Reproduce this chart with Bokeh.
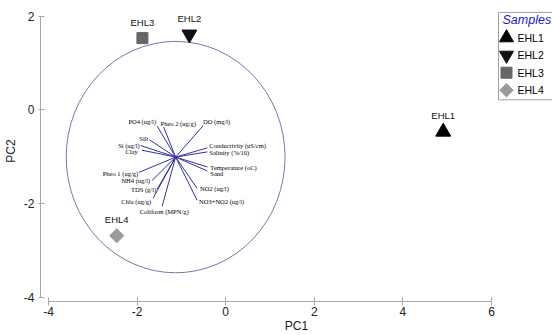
import numpy as np
from bokeh.plotting import figure
from bokeh.models import (ColumnDataSource, FixedTicker, Range1d,
                          PrintfTickFormatter)
from bokeh.core.properties import value
from bokeh.embed import file_html
from bokeh.resources import INLINE

# ---- data -------------------------------------------------------------
samples = ["EHL1", "EHL2", "EHL3", "EHL4"]
pc1 = [4.91, -0.82, -1.88, -2.46]
pc2 = [-0.47, 1.61, 1.53, -2.69]

variables = ["PO4 (ug/l)", "Pheo 2 (ug/g)", "DO (mg/l)", "Silt", "Si (ug/l)",
             "Clay", "Conductivity (uS/cm)", "Salinity (%/10)",
             "Temperature (oC)", "Sand", "Pheo 1 (ug/g)", "NH4 (ug/l)",
             "TDS (g/l)", "Chla (ug/g)", "Coliform (MPN/g)", "NO2 (ug/l)",
             "NO3+NO2 (ug/l)"]
load1 = [-0.17, -0.11, 0.25, -0.24, -0.32, -0.31, 0.29, 0.29, 0.29, 0.29,
         -0.334, -0.215, -0.169, -0.206, -0.123, 0.196, 0.196]
load2 = [0.27, 0.26, 0.27, 0.15, 0.10, 0.06, 0.08, 0.045, -0.085, -0.12,
         -0.132, -0.201, -0.278, -0.355, -0.424, -0.27, -0.373]

circle_center = (-1.13, -1.01)
circle_radius = 2.47

x_ticks = [-4, -2, 0, 2, 4, 6]
y_ticks = [-4, -2, 0, 2]

# ---- layout / style ---------------------------------------------------
W, H = 552, 335
BL, BB = 40, 32                       # left / bottom borders (px)
X0, X1 = -4.1806, 7.3769              # x range
Y0, Y1 = -4.093, 2.333                # y range
FW, FH = W - BL, H - BB               # frame size (px)

lab_align = ["right", "left", "left", "right", "right", "right", "left", "left",
             "left", "left", "right", "right", "right", "right", "center",
             "left", "left"]
lab_dx = [-1, -3, 0, -1, -1, -4, 2, 2, 3, 3, -1, -2, -1, -2, 2, 3, 2]
lab_dy = [-4, -4, -4, -1, 0, 1, -2, 1, 1, 3, 1, 0, 0, 3, 5, 0, 1]


def px2x(px):
    return X0 + (px - BL) * (X1 - X0) / FW


def py2y(py):
    return Y1 - py * (Y1 - Y0) / FH


p = figure(width=W, height=H, output_backend="svg", toolbar_location=None,
           x_range=Range1d(X0, X1), y_range=Range1d(Y0, Y1),
           min_border_left=BL, min_border_right=0, min_border_top=0,
           min_border_bottom=BB)
p.outline_line_color = None
p.grid.visible = False
p.background_fill_color = "white"

axis_col = "#a6a6a6"
for ax, ticks in ((p.xaxis[0], x_ticks), (p.yaxis[0], y_ticks)):
    ax.ticker = FixedTicker(ticks=ticks)
    ax.formatter = PrintfTickFormatter(format="%d")
    ax.minor_tick_line_color = None
    ax.axis_line_color = axis_col
    ax.major_tick_line_color = axis_col
    ax.major_label_text_font = "Liberation Sans"
    ax.major_label_text_font_size = "12px"
    ax.major_label_text_color = "#222222"
    ax.axis_label_text_font = "Liberation Sans"
    ax.axis_label_text_font_size = "12px"
    ax.axis_label_text_font_style = "normal"
    ax.axis_label_text_color = "#222222"
    ax.bounds = (min(ticks), max(ticks))

p.xaxis.axis_label = "PC1"
p.yaxis.axis_label = "PC2"
p.xaxis.major_tick_in = 4
p.xaxis.major_tick_out = 4
p.xaxis.major_label_standoff = 1
p.xaxis.axis_label_standoff = 0
p.yaxis.major_tick_in = 4
p.yaxis.major_tick_out = 2
p.yaxis.major_label_standoff = 4
p.yaxis.axis_label_standoff = 3

# correlation circle
cx, cy = circle_center
p.ellipse(x=[cx], y=[cy], width=2 * circle_radius, height=2 * circle_radius,
          fill_color=None, line_color="#7777aa", line_width=1)

# vectors
vx = [cx + a * circle_radius for a in load1]
vy = [cy + b * circle_radius for b in load2]
vsrc = ColumnDataSource(dict(x0=[cx] * len(vx), y0=[cy] * len(vy), x1=vx, y1=vy,
                             text=variables, align=lab_align, dx=lab_dx,
                             dy=lab_dy))
p.segment(x0="x0", y0="y0", x1="x1", y1="y1", source=vsrc,
          line_color="#34349a", line_width=1)
p.text(x="x1", y="y1", text="text", source=vsrc, text_align="align",
       x_offset="dx", y_offset="dy", text_baseline="middle",
       text_font=value("Liberation Serif"), text_font_size="6.5px",
       text_color="#000000")

# samples
markers = ["triangle", "inverted_triangle", "square", "square"]
sizes = [15, 15, 11, 10]
angles = [0, 0, 0, np.pi / 4]
colors = ["#000000", "#111111", "#666666", "#9b9b9b"]
for i, s in enumerate(samples):
    p.scatter(x=[pc1[i]], y=[pc2[i]], marker=markers[i], size=sizes[i],
              angle=angles[i], fill_color=colors[i], line_color=colors[i])

p.text(x=pc1, y=pc2, text=samples, text_align="center",
       text_baseline="middle", y_offset=-16,
       text_font=value("Liberation Sans"), text_font_size="9.5px",
       text_color="#111111")

# legend (drawn in pixel layout, converted to data space)
LG_L, LG_T, LG_B = 498, 12, 100
p.quad(left=[px2x(LG_L)], right=[px2x(W + 10)], top=[py2y(LG_T)],
       bottom=[py2y(LG_B)], fill_color="white", line_color="#a0a0a0",
       line_width=1)
p.text(x=[px2x(LG_L + 4)], y=[py2y(LG_T + 8)], text=["Samples"],
       text_baseline="middle", text_align="left",
       text_font=value("Liberation Sans"), text_font_style="italic",
       text_font_size="12.5px", text_color="#2020c8")
row_y = [py2y(LG_T + 25.5 + 17.6 * i) for i in range(len(samples))]
lg_sizes = [14, 14, 11, 9.5]
for i, s in enumerate(samples):
    p.scatter(x=[px2x(LG_L + 8)], y=[row_y[i]], marker=markers[i],
              size=lg_sizes[i], angle=angles[i], fill_color=colors[i],
              line_color=colors[i])
p.text(x=[px2x(LG_L + 19)] * len(samples), y=row_y, text=samples,
       text_baseline="middle", text_align="left",
       text_font=value("Liberation Sans"), text_font_size="10.5px",
       text_color="#000000")

open("out.html", "w").write(file_html(p, INLINE))
